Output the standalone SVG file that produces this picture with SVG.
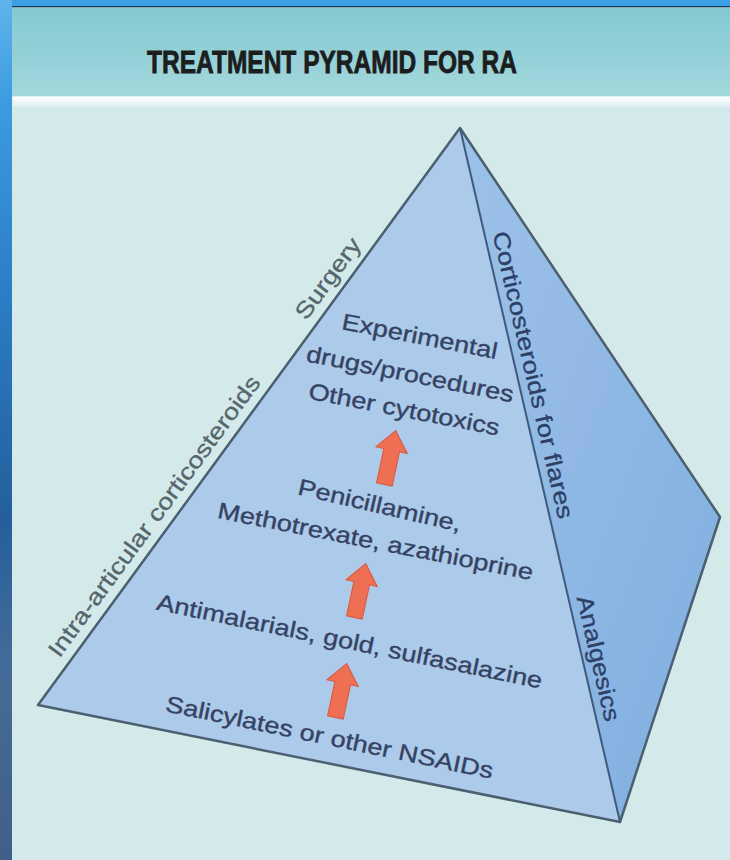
<svg xmlns="http://www.w3.org/2000/svg" width="730" height="860" viewBox="0 0 730 860">
<defs>
<linearGradient id="sideGrad" x1="0" y1="0" x2="0" y2="1">
<stop offset="0" stop-color="#5cb4ea"/>
<stop offset="0.12" stop-color="#3d9be0"/>
<stop offset="0.35" stop-color="#2b7cc4"/>
<stop offset="0.6" stop-color="#245f9c"/>
<stop offset="0.78" stop-color="#456c98"/>
<stop offset="1" stop-color="#3f5f88"/>
</linearGradient>
<linearGradient id="bandGrad" x1="0" y1="0" x2="0" y2="1">
<stop offset="0" stop-color="#86c9d2"/>
<stop offset="0.5" stop-color="#93d0d6"/>
<stop offset="1" stop-color="#a4d8dc"/>
</linearGradient>
<linearGradient id="whiteGrad" x1="0" y1="0" x2="0" y2="1">
<stop offset="0" stop-color="#ffffff"/>
<stop offset="1" stop-color="#e0f0f0"/>
</linearGradient>
<linearGradient id="rightFace" x1="0" y1="0" x2="1" y2="1">
<stop offset="0" stop-color="#9cc2e8"/>
<stop offset="1" stop-color="#80aee0"/>
</linearGradient>
<path id="arrow" d="M0,-28 L16,-8 L8,-8 L8,27 L-8,27 L-8,-8 L-16,-8 Z" fill="#ef6f52" stroke="#d9583d" stroke-width="1"/>
</defs>
<style>
.body{font-family:"Liberation Sans",Arial,sans-serif;font-size:23px;fill:#354262;stroke:#354262;stroke-width:0.35;text-anchor:middle}
.edge{font-family:"Liberation Sans",Arial,sans-serif;font-size:23px;fill:#56666c;stroke:#56666c;stroke-width:0.3;text-anchor:middle}
.side{font-family:"Liberation Sans",Arial,sans-serif;font-size:23px;fill:#2c4066;stroke:#2c4066;stroke-width:0.3;text-anchor:middle}
.title{font-family:"Liberation Sans Narrow","Liberation Sans",Arial,sans-serif;font-weight:bold;font-size:31px;fill:#1c1d1d;stroke:#1c1d1d;stroke-width:0.8;text-anchor:middle}
.ln{fill:none;stroke:#4b5f70;stroke-width:2.5;stroke-linejoin:round}
</style>

<g id="background">
<rect x="0" y="0" width="730" height="860" fill="#d4eaea"/>
<rect x="0" y="0" width="730" height="7" fill="#3d9fe3"/>
<rect x="12" y="6" width="718" height="1.5" fill="#1d3a50"/>
<rect x="12" y="7.5" width="718" height="89" fill="url(#bandGrad)"/>
<rect x="12" y="96.5" width="718" height="10" fill="url(#whiteGrad)"/>
<rect x="0" y="0" width="12" height="860" fill="url(#sideGrad)"/>
</g>

<g id="title">
<text class="title" x="332" y="73" textLength="370" lengthAdjust="spacingAndGlyphs">TREATMENT PYRAMID FOR RA</text>
</g>

<g id="pyramid">
<polygon id="front-face" points="460,128 38,705 620,822" fill="#accaea"/>
<polygon id="right-face" points="460,128 620,822 720,517" fill="url(#rightFace)"/>
<polygon class="ln" points="460,128 38,705 620,822 720,517"/>
<line x1="460" y1="128" x2="620" y2="822" stroke="#3f5a7e" stroke-width="2"/>
</g>

<g id="edge-labels">
<text class="edge" transform="translate(334.3,283) rotate(-53.8)" textLength="95" lengthAdjust="spacingAndGlyphs">Surgery</text>
<text class="edge" transform="translate(160.4,520.8) rotate(-53.8)" textLength="342" lengthAdjust="spacingAndGlyphs">Intra-articular corticosteroids</text>
<text class="side" transform="translate(525.6,376.7) rotate(77)" textLength="294" lengthAdjust="spacingAndGlyphs">Corticosteroids for flares</text>
<text class="side" transform="translate(590.9,660.2) rotate(77)" textLength="128" lengthAdjust="spacingAndGlyphs">Analgesics</text>
</g>

<g id="tier-4">
<text class="body" transform="translate(418.4,344) rotate(11)" textLength="158" lengthAdjust="spacingAndGlyphs">Experimental</text>
<text class="body" transform="translate(408.7,381.8) rotate(11.3)" textLength="211" lengthAdjust="spacingAndGlyphs">drugs/procedures</text>
<text class="body" transform="translate(402.6,417) rotate(11)" textLength="194" lengthAdjust="spacingAndGlyphs">Other cytotoxics</text>
</g>
<g id="tier-3">
<text class="body" transform="translate(378,513) rotate(13)" textLength="167" lengthAdjust="spacingAndGlyphs">Penicillamine,</text>
<text class="body" transform="translate(374,549) rotate(11.2)" textLength="321" lengthAdjust="spacingAndGlyphs">Methotrexate, azathioprine</text>
</g>
<g id="tier-2">
<text class="body" transform="translate(348,649) rotate(11.6)" textLength="393" lengthAdjust="spacingAndGlyphs">Antimalarials, gold, sulfasalazine</text>
</g>
<g id="tier-1">
<text class="body" transform="translate(328,745) rotate(11.7)" textLength="334" lengthAdjust="spacingAndGlyphs">Salicylates or other NSAIDs</text>
</g>

<g id="connectors">
<use href="#arrow" transform="translate(390,458) rotate(12)"/>
<use href="#arrow" transform="translate(360,591) rotate(12)"/>
<use href="#arrow" transform="translate(341,691) rotate(12)"/>
</g>
</svg>
